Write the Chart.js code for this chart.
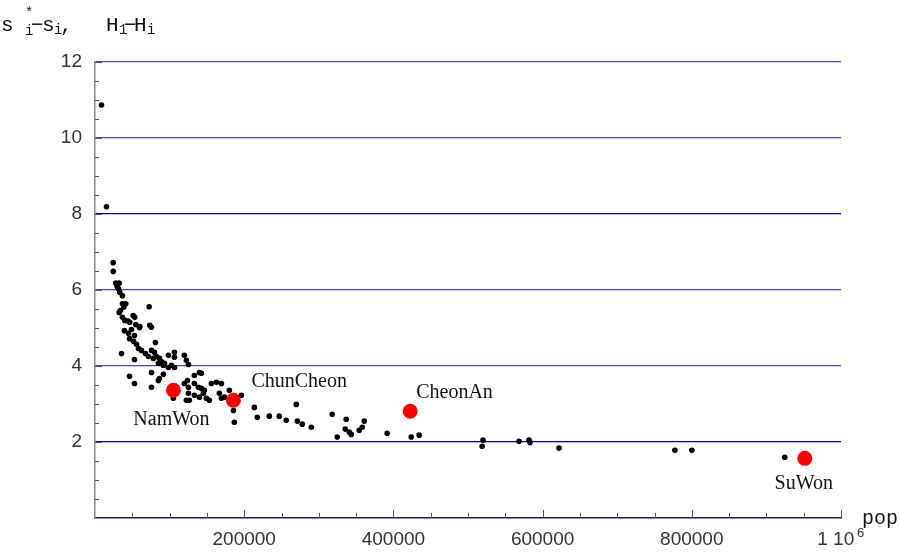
<!DOCTYPE html>
<html>
<head>
<meta charset="utf-8">
<script src="https://cdn.jsdelivr.net/npm/chart.js@4"></script>
<style>
  html, body { margin: 0; padding: 0; background: #fff; }
  canvas { display: block; }
</style>
</head>
<body>
<canvas id="chart" width="900" height="554"></canvas>
<script>
// population (x) and s*_i - s_i (y) for every city
const popValues = [
  8700, 15400, 24400, 24400, 27900, 32400, 29700, 31500, 33200, 36800,
  36800, 41200, 38600, 34100, 32400, 72600, 36800, 39900, 44500, 46600,
  51200, 53300, 54600, 60000, 73400, 75700, 39500, 44900, 48900, 52900,
  59600, 46200, 51600, 55600, 58200, 62300, 67600, 71600, 78300, 81000,
  35500, 52900, 75700, 79700, 82300, 86400, 89000, 85000, 91700, 93100,
  46200, 52900, 75700, 86400, 85000, 91700, 75700, 98400, 106500, 106500,
  102400, 106500, 119800, 122500, 125200, 98400, 133200, 139900, 142600, 123900,
  119800, 125200, 133200, 138600, 142600, 146600, 156000, 162700, 169400, 105100,
  125200, 122500, 126500, 133200, 139900, 145300, 149300, 153300, 166700, 169400,
  180100, 173400, 196200, 185500, 186800, 213600, 217600, 233700, 247000, 256400,
  269800, 271200, 277800, 289900, 318000, 324700, 336800, 335400, 340800, 343500,
  354200, 358200, 360900, 391700, 423800, 434500, 518900, 520200, 568400, 581800,
  583100, 622000, 777300, 800000, 924600
];
const diffValues = [
  10.87, 8.19, 6.72, 6.49, 6.18, 6.18, 6.09, 6.03, 5.94, 5.85,
  5.64, 5.64, 5.55, 5.46, 5.41, 5.56, 5.28, 5.20, 5.18, 5.15,
  5.33, 5.28, 5.09, 5.04, 5.07, 5.02, 4.93, 4.86, 4.96, 4.80,
  5.01, 4.72, 4.65, 4.57, 4.46, 4.41, 4.33, 4.25, 4.20, 4.62,
  4.33, 4.17, 4.41, 4.36, 4.25, 4.20, 4.12, 4.07, 4.02, 4.07,
  3.73, 3.54, 3.83, 3.67, 3.62, 3.78, 3.44, 4.28, 4.36, 4.23,
  4.02, 3.96, 4.28, 4.15, 4.04, 3.96, 3.75, 3.83, 3.81, 3.62,
  3.54, 3.44, 3.54, 3.44, 3.41, 3.36, 3.54, 3.57, 3.54, 3.15,
  3.28, 3.10, 3.10, 3.23, 3.18, 3.28, 3.15, 3.10, 3.28, 3.15,
  3.36, 3.18, 3.23, 2.83, 2.52, 2.91, 2.65, 2.68, 2.68, 2.57,
  2.99, 2.55, 2.47, 2.39, 2.73, 2.13, 2.60, 2.34, 2.26, 2.20,
  2.31, 2.39, 2.55, 2.23, 2.13, 2.18, 1.89, 2.05, 2.02, 2.05,
  1.99, 1.84, 1.78, 1.78, 1.60
];

// highlighted cities
const cityNames = ['NamWon', 'ChunCheon', 'CheonAn', 'SuWon'];
const cityPop = [105100, 185500, 422500, 951500];
const cityDiff = [3.36, 3.10, 2.81, 1.57];

// axis ticks
const xLabelTicks = [200000, 400000, 600000, 800000, 1000000];
const yLabelTicks = [2, 4, 6, 8, 10, 12];

const blackPoints = popValues.map((x, i) => ({ x: x, y: diffValues[i] }));
const redPoints = cityPop.map((x, i) => ({ x: x, y: cityDiff[i] }));

// label offsets relative to the red dot: [dx, dy, align]
const labelOffsets = {
  NamWon: [-2, 35, 'center'],
  ChunCheon: [18, -13, 'left'],
  CheonAn: [6, -13, 'left'],
  SuWon: [-1, 31, 'center']
};

const overlay = {
  id: 'overlay',
  beforeDatasetsDraw(chart) {
    const ctx = chart.ctx;
    const xs = chart.scales.x;
    const ys = chart.scales.y;
    const area = chart.chartArea;
    ctx.save();
    // inward tick marks
    ctx.strokeStyle = '#555';
    ctx.lineWidth = 1;
    ys.ticks.forEach(t => {
      const v = t.value;
      if (Math.abs(v * 2 - Math.round(v * 2)) > 1e-6 || v <= 0) return;
      const py = Math.round(ys.getPixelForValue(v)) + 0.5;
      const len = yLabelTicks.includes(v) ? 7 : 4;
      ctx.beginPath();
      ctx.moveTo(area.left, py);
      ctx.lineTo(area.left + len, py);
      ctx.stroke();
    });
    xs.ticks.forEach(t => {
      const v = t.value;
      if (v % 50000 !== 0 || v <= 0) return;
      const px = Math.round(xs.getPixelForValue(v)) + 0.5;
      const len = xLabelTicks.includes(v) ? 8 : 5;
      ctx.beginPath();
      ctx.moveTo(px, area.bottom);
      ctx.lineTo(px, area.bottom - len);
      ctx.stroke();
    });
    ctx.restore();
  },
  afterDraw(chart) {
    const ctx = chart.ctx;
    const xs = chart.scales.x;
    const ys = chart.scales.y;
    ctx.save();
    ctx.fillStyle = '#111';
    ctx.textBaseline = 'alphabetic';

    // city labels
    ctx.font = '20px "Liberation Serif", serif';
    cityNames.forEach((name, i) => {
      const off = labelOffsets[name];
      const px = xs.getPixelForValue(cityPop[i]);
      const py = ys.getPixelForValue(cityDiff[i]);
      ctx.textAlign = off[2];
      ctx.fillText(name, px + off[0], py + off[1]);
    });

    // axis title at the top
    ctx.textAlign = 'left';
    const big = '21px "Liberation Mono", monospace';
    const small = '14px "Liberation Mono", monospace';
    const parts = [
      ['s', 1, 31, big], ['*', 25, 17, small], ['i', 25, 35, small],
      ['\u2212', 31, 31, big], ['s', 42, 31, big], ['i', 54, 34, small],
      [',', 60, 31, big], ['H', 106, 31, big], ['1', 119, 34, small],
      ['\u2212', 124, 31, big], ['H', 134, 31, big], ['i', 147, 34, small]
    ];
    parts.forEach(p => {
      ctx.font = p[3];
      ctx.fillText(p[0], p[1], p[2]);
    });

    // x axis name and exponent
    ctx.font = '20px "Liberation Mono", monospace';
    ctx.fillText('pop', 862, 524);
    ctx.fillStyle = '#333';
    ctx.font = '13px "Liberation Sans", sans-serif';
    ctx.fillText('6', xs.getPixelForValue(1000000) + 16, 537);
    ctx.restore();
  }
};

new Chart(document.getElementById('chart'), {
  type: 'scatter',
  data: {
    datasets: [
      {
        label: 'cities',
        data: redPoints,
        backgroundColor: '#ff0000',
        borderWidth: 0,
        pointRadius: 7.5
      },
      {
        label: 'all',
        data: blackPoints,
        backgroundColor: '#000',
        borderWidth: 0,
        pointRadius: 2.8
      }
    ]
  },
  options: {
    responsive: false,
    animation: false,
    devicePixelRatio: 1,
    layout: { padding: { top: 62, right: 59, left: 0, bottom: 0 } },
    plugins: {
      legend: { display: false },
      tooltip: { enabled: false }
    },
    scales: {
      x: {
        type: 'linear',
        min: 0,
        max: 1000000,
        afterFit: scale => { scale.height = 36; },
        border: { color: '#1a1a5a', width: 1.5 },
        grid: { display: false, drawTicks: false },
        ticks: {
          stepSize: 50000,
          autoSkip: false,
          maxRotation: 0,
          padding: 10,
          color: '#333',
          font: { family: '"Liberation Sans", sans-serif', size: 19 },
          callback: v => {
            if (!xLabelTicks.includes(v)) return '';
            return v === 1000000 ? '1 10  ' : String(v);
          }
        }
      },
      y: {
        type: 'linear',
        min: 0,
        max: 12,
        afterFit: scale => { scale.width = 95; },
        border: { color: '#888', width: 1.5 },
        grid: {
          drawTicks: false,
          lineWidth: 1.3,
          color: c => {
            const v = c.tick ? c.tick.value : null;
            if (!yLabelTicks.includes(v)) return 'rgba(0,0,0,0)';
            return (v === 8 || v === 2) ? '#000080' : '#4a4ab0';
          }
        },
        ticks: {
          stepSize: 0.5,
          autoSkip: false,
          padding: 13,
          color: '#333',
          font: { family: '"Liberation Sans", sans-serif', size: 19 },
          callback: v => yLabelTicks.includes(v) ? String(v) : ''
        }
      }
    }
  },
  plugins: [overlay]
});
</script>
</body>
</html>
